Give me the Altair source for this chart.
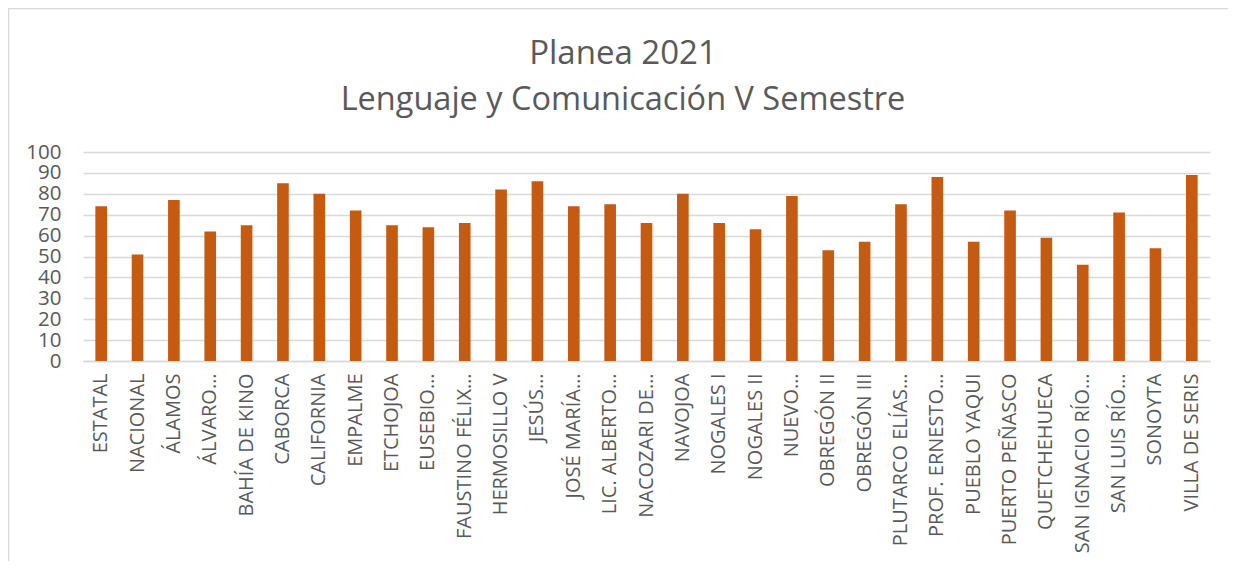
import altair as alt
import pandas as pd

categories = [
    "ESTATAL", "NACIONAL", "ÁLAMOS", "ÁLVARO…", "BAHÍA DE KINO", "CABORCA",
    "CALIFORNIA", "EMPALME", "ETCHOJOA", "EUSEBIO…", "FAUSTINO FÉLIX…",
    "HERMOSILLO V", "JESÚS…", "JOSÉ MARÍA…", "LIC. ALBERTO…", "NACOZARI DE…",
    "NAVOJOA", "NOGALES I", "NOGALES II", "NUEVO…", "OBREGÓN II", "OBREGÓN III",
    "PLUTARCO ELÍAS…", "PROF. ERNESTO…", "PUEBLO YAQUI", "PUERTO PEÑASCO",
    "QUETCHEHUECA", "SAN IGNACIO RÍO…", "SAN LUIS RÍO…", "SONOYTA", "VILLA DE SERIS",
]
values = [74, 51, 77, 62, 65, 85, 80, 72, 65, 64, 66, 82, 86, 74, 75, 66,
          80, 66, 63, 79, 53, 57, 75, 88, 57, 72, 59, 46, 71, 54, 89]
title_line1 = "Planea 2021"
title_line2 = "Lenguaje y Comunicación V Semestre"
y_ticks = [0, 10, 20, 30, 40, 50, 60, 70, 80, 90, 100]

df = pd.DataFrame({"cat": categories, "val": values})
one = pd.DataFrame({"a": [0]})

FONT = "Open Sans"
TXT = "#595959"
GRID = "#D9D9D9"

W, H = 1127, 209

bars = alt.Chart(df).mark_bar(color="#C55A11").encode(
    x=alt.X("cat:N", sort=categories, title=None,
            scale=alt.Scale(paddingInner=0.68, paddingOuter=0.34),
            axis=alt.Axis(labelAngle=-90, labelFont=FONT, labelFontSize=20,
                          labelColor=TXT, ticks=False, labelPadding=12,
                          domainColor=GRID, domainWidth=1.5, labelLimit=300)),
    y=alt.Y("val:Q", title=None,
            scale=alt.Scale(domain=[0, 100], nice=False),
            axis=alt.Axis(values=y_ticks, labelFont=FONT, labelFontSize=20.5,
                          labelColor=TXT, ticks=False, tickSize=0, domain=False,
                          labelPadding=22, gridColor=GRID, gridWidth=1.5)),
)

frame = alt.Chart(one).mark_rect(
    filled=False, stroke=GRID, strokeWidth=1.5
).encode(
    x=alt.value(-74.5), x2=alt.value(W + 60),
    y=alt.value(-143.5), y2=alt.value(H + 240),
)

t1 = alt.Chart(one).mark_text(
    text=title_line1, font=FONT, fontSize=33, color=TXT,
    align="center", baseline="alphabetic"
).encode(x=alt.value(540), y=alt.value(-88))

t2 = alt.Chart(one).mark_text(
    text=title_line2, font=FONT, fontSize=32.5, color=TXT,
    align="center", baseline="alphabetic"
).encode(x=alt.value(540), y=alt.value(-42))

chart = alt.layer(frame, bars, t1, t2).properties(
    width=W, height=H,
    autosize=alt.AutoSizeParams(type="none"),
    padding={"left": 75, "top": 144, "right": 18, "bottom": 200},
).configure_view(stroke=None)

chart.save("out.html", embed_options={"renderer": "svg", "actions": False})
